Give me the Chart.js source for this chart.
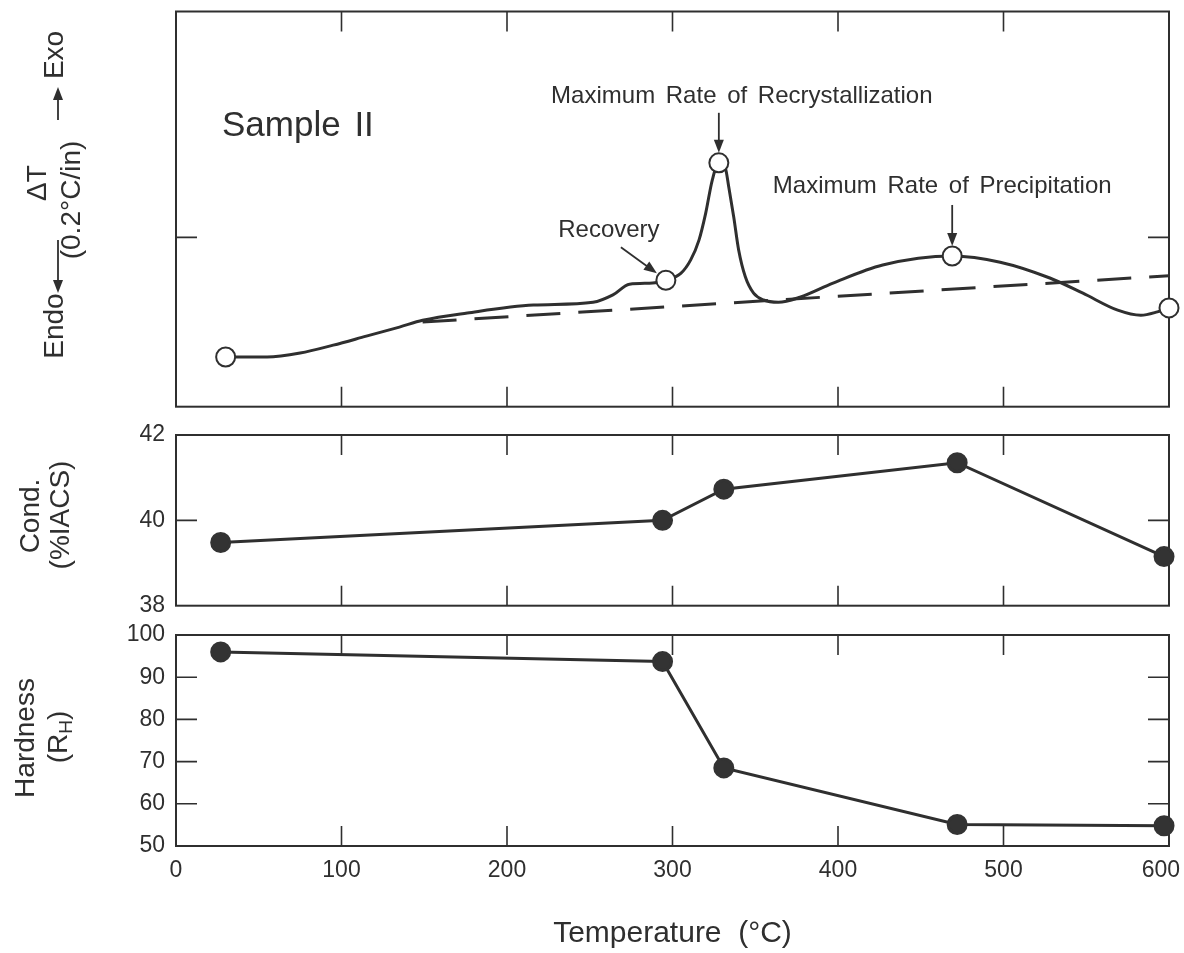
<!DOCTYPE html>
<html>
<head>
<meta charset="utf-8">
<script src="https://cdn.jsdelivr.net/npm/chart.js@4.4.1/dist/chart.umd.min.js"></script>
<style>
  html, body { margin: 0; padding: 0; background: #fff; }
  #wrap { position: relative; width: 1184px; height: 953px; }
  canvas { position: absolute; left: 0; }
</style>
</head>
<body>
<div id="wrap">
  <canvas id="dta" style="top:0px" width="1184" height="420"></canvas>
  <canvas id="cond" style="top:420px" width="1184" height="200"></canvas>
  <canvas id="hard" style="top:620px" width="1184" height="333"></canvas>
</div>
<script>
// temperature axis (°C)
const xTicks = [100, 200, 300, 400, 500];

// DTA trace, arbitrary ΔT units
const dtaTemp = [30, 55, 75, 95, 115, 135, 149, 176, 216, 252, 264, 274, 288, 296, 305, 311, 316, 320, 324, 328, 332, 334, 337, 340, 344, 349, 355, 364, 377, 397, 427, 469, 498, 528, 548, 569, 583, 593, 600];
const dtaVal  = [0.88, 0.88, 0.95, 1.09, 1.25, 1.41, 1.53, 1.66, 1.80, 1.85, 1.98, 2.17, 2.19, 2.24, 2.36, 2.60, 2.95, 3.42, 4.01, 4.32, 4.22, 3.89, 3.36, 2.77, 2.30, 2.01, 1.89, 1.85, 1.94, 2.19, 2.51, 2.67, 2.56, 2.28, 2.01, 1.71, 1.62, 1.68, 1.75];
const dtaTicks = [3];

// open circles on the DTA trace (start, recovery, recryst., precip., end)
const markTemp = [30, 296, 328, 469, 600];
const markVal  = [0.88, 2.24, 4.32, 2.67, 1.75];

// dashed base line
const baseTemp = [149, 600];
const baseVal  = [1.50, 2.32];

// measured samples
const sampleTemp = [27, 294, 331, 472, 597];
const condVal = [39.48, 40.0, 40.73, 41.35, 39.15];
const hardVal = [96.0, 93.7, 68.5, 55.1, 54.8];
const condTicks = [40];
const hardTicks = [60, 70, 80, 90];

const ink = '#2f2f2f';
const fam = '"Liberation Sans", Arial, Helvetica, sans-serif';

function pts(xs, ys) { return xs.map((x, i) => ({ x: x, y: ys[i] })); }

function arrow(ctx, x1, y1, x2, y2) {
  const a = Math.atan2(y2 - y1, x2 - x1), h = 13, w = 5;
  ctx.beginPath();
  ctx.moveTo(x1, y1);
  ctx.lineTo(x2 - h * 0.8 * Math.cos(a), y2 - h * 0.8 * Math.sin(a));
  ctx.stroke();
  ctx.beginPath();
  ctx.moveTo(x2, y2);
  ctx.lineTo(x2 - h * Math.cos(a) + w * Math.sin(a), y2 - h * Math.sin(a) - w * Math.cos(a));
  ctx.lineTo(x2 - h * Math.cos(a) - w * Math.sin(a), y2 - h * Math.sin(a) + w * Math.cos(a));
  ctx.closePath();
  ctx.fill();
}

function vtext(ctx, txt, x, y, align, size) {
  ctx.save();
  ctx.translate(x, y);
  ctx.rotate(-Math.PI / 2);
  ctx.font = size + 'px ' + fam;
  ctx.fillStyle = ink;
  ctx.textAlign = align;
  ctx.textBaseline = 'middle';
  ctx.fillText(txt, 0, 0);
  ctx.restore();
}

// tick numbers; the last x label is pulled in so it stays on the page
function tickText(ctx, txt, x, y, align) {
  ctx.save();
  ctx.font = '23px ' + fam;
  ctx.fillStyle = ink;
  ctx.textBaseline = 'middle';
  const w = ctx.measureText(txt).width;
  if (align === 'center' && x + w / 2 > ctx.canvas.width - 4) {
    align = 'right';
    x = ctx.canvas.width - 4;
  }
  ctx.textAlign = align;
  ctx.fillText(txt, x, y);
  ctx.restore();
}

// box round the plot area, with inward tick marks
function makeFrame(yt) {
  return {
    id: 'frame',
    beforeDatasetsDraw(chart) {
      const { ctx, chartArea: a, scales } = chart;
      ctx.save();
      ctx.strokeStyle = ink;
      ctx.lineWidth = 2;
      ctx.strokeRect(a.left, a.top, a.right - a.left, a.bottom - a.top);
      ctx.lineWidth = 1.6;
      ctx.beginPath();
      xTicks.forEach(v => {
        const p = scales.x.getPixelForValue(v);
        ctx.moveTo(p, a.top); ctx.lineTo(p, a.top + 20);
        ctx.moveTo(p, a.bottom); ctx.lineTo(p, a.bottom - 20);
      });
      yt.forEach(v => {
        const p = scales.y.getPixelForValue(v);
        ctx.moveTo(a.left, p); ctx.lineTo(a.left + 21, p);
        ctx.moveTo(a.right, p); ctx.lineTo(a.right - 21, p);
      });
      ctx.stroke();
      ctx.restore();
    },
    afterDraw(chart) {
      const { ctx, chartArea: a, scales } = chart;
      if (scales.y.options.display) {
        scales.y.ticks.forEach(t => tickText(ctx, t.label, a.left - 11, scales.y.getPixelForValue(t.value), 'right'));
      }
      if (scales.x.options.display) {
        scales.x.ticks.forEach(t => tickText(ctx, t.label, scales.x.getPixelForValue(t.value), a.bottom + 25, 'center'));
      }
    }
  };
}

const xHidden = { type: 'linear', min: 0, max: 600, display: false };
const base = { responsive: false, animation: false, devicePixelRatio: 1, events: [],
  plugins: { legend: { display: false }, tooltip: { enabled: false } } };

function yAxis(min, max, step) {
  return {
    min: min, max: max,
    grid: { display: false, drawTicks: false }, border: { display: false },
    ticks: { display: false, stepSize: step },
    afterFit(s) { s.width = 176; s.paddingTop = 0; s.paddingBottom = 0; }
  };
}

// ---------- DTA panel ----------
const notes = {
  id: 'notes',
  afterDatasetsDraw(chart) {
    const { ctx, chartArea: a } = chart;
    const m = chart.getDatasetMeta(0).data;
    const rec = m[1], pk = m[2], pr = m[3];
    ctx.save();
    ctx.fillStyle = ink; ctx.strokeStyle = ink; ctx.lineWidth = 1.8;
    ctx.textBaseline = 'alphabetic';
    ctx.font = '35px ' + fam; ctx.wordSpacing = '4px'; ctx.textAlign = 'left';
    ctx.fillText('Sample II', a.left + 46, a.top + 124);
    ctx.font = '24px ' + fam; ctx.textAlign = 'center';
    ctx.fillText('Maximum Rate of Recrystallization', pk.x + 23, pk.y - 60);
    arrow(ctx, pk.x, pk.y - 50, pk.x, pk.y - 10);
    ctx.fillText('Maximum Rate of Precipitation', pr.x - 10, pr.y - 63);
    arrow(ctx, pr.x, pr.y - 51, pr.x, pr.y - 10);
    ctx.fillText('Recovery', rec.x - 57, rec.y - 43);
    arrow(ctx, rec.x - 45, rec.y - 33, rec.x - 9, rec.y - 7);
    ctx.restore();
  },
  afterDraw(chart) {
    const ctx = chart.ctx;
    vtext(ctx, 'ΔT', 38, 183, 'center', 28);
    vtext(ctx, '(0.2°C/in)', 72, 200, 'center', 28);
    vtext(ctx, 'Endo', 55, 326, 'center', 28);
    vtext(ctx, 'Exo', 55, 55, 'center', 28);
    ctx.save();
    ctx.fillStyle = ink; ctx.strokeStyle = ink; ctx.lineWidth = 1.8;
    arrow(ctx, 58, 240, 58, 293);
    arrow(ctx, 58, 120, 58, 87);
    ctx.restore();
  }
};

new Chart(document.getElementById('dta'), {
  type: 'line',
  data: {
    datasets: [
      { data: pts(markTemp, markVal), showLine: false, pointRadius: 9.5, pointBackgroundColor: '#fff',
        pointBorderColor: ink, pointBorderWidth: 2, clip: false },
      { data: pts(dtaTemp, dtaVal), borderColor: ink, borderWidth: 3, pointRadius: 0,
        cubicInterpolationMode: 'monotone' },
      { data: pts(baseTemp, baseVal), borderColor: ink, borderWidth: 3, pointRadius: 0, borderDash: [34, 18] }
    ]
  },
  options: Object.assign({}, base, {
    layout: { padding: { left: 176, right: 15, top: 11, bottom: 13.3 } },
    scales: { x: xHidden, y: { min: 0, max: 7, display: false } }
  }),
  plugins: [makeFrame(dtaTicks), notes]
});

// ---------- conductivity panel ----------
new Chart(document.getElementById('cond'), {
  type: 'line',
  data: {
    datasets: [
      { data: pts(sampleTemp, condVal), borderColor: ink, borderWidth: 3, pointRadius: 9,
        pointBackgroundColor: '#333', pointBorderColor: '#333', clip: false, tension: 0 }
    ]
  },
  options: Object.assign({}, base, {
    layout: { padding: { left: 0, right: 15, top: 15, bottom: 14.3 } },
    scales: { x: xHidden, y: yAxis(38, 42, 2) }
  }),
  plugins: [makeFrame(condTicks), {
    id: 'condTitle',
    afterDraw(chart) {
      vtext(chart.ctx, 'Cond.', 31, 96, 'center', 28);
      vtext(chart.ctx, '(%IACS)', 61, 95, 'center', 28);
    }
  }]
});

// ---------- hardness panel ----------
new Chart(document.getElementById('hard'), {
  type: 'line',
  data: {
    datasets: [
      { data: pts(sampleTemp, hardVal), borderColor: ink, borderWidth: 3, pointRadius: 9,
        pointBackgroundColor: '#333', pointBorderColor: '#333', clip: false, tension: 0 }
    ]
  },
  options: Object.assign({}, base, {
    layout: { padding: { left: 0, right: 15, top: 15, bottom: 0 } },
    scales: {
      x: {
        type: 'linear', min: 0, max: 600,
        grid: { display: false, drawTicks: false }, border: { display: false },
        ticks: { display: false, stepSize: 100 },
        title: { display: true, text: 'Temperature  (°C)', color: ink, padding: { top: 0, bottom: 1 },
          font: { family: fam, size: 30 } },
        afterFit(s) { s.height = 107; s.paddingLeft = 0; s.paddingRight = 0; }
      },
      y: yAxis(50, 100, 10)
    }
  }),
  plugins: [makeFrame(hardTicks), {
    id: 'hardTitle',
    afterDraw(chart) {
      const ctx = chart.ctx;
      vtext(ctx, 'Hardness', 26, 118, 'center', 28);
      ctx.save();
      ctx.translate(59, 117);
      ctx.rotate(-Math.PI / 2);
      ctx.fillStyle = ink;
      ctx.textBaseline = 'middle';
      ctx.textAlign = 'left';
      ctx.font = '28px ' + fam;
      const w1 = ctx.measureText('(R').width, w3 = ctx.measureText(')').width;
      ctx.font = '19px ' + fam;
      const w2 = ctx.measureText('H').width;
      const s = -(w1 + w2 + w3) / 2;
      ctx.font = '28px ' + fam;
      ctx.fillText('(R', s, 0);
      ctx.font = '19px ' + fam;
      ctx.fillText('H', s + w1, 8);
      ctx.font = '28px ' + fam;
      ctx.fillText(')', s + w1 + w2, 0);
      ctx.restore();
    }
  }]
});
</script>
</body>
</html>
